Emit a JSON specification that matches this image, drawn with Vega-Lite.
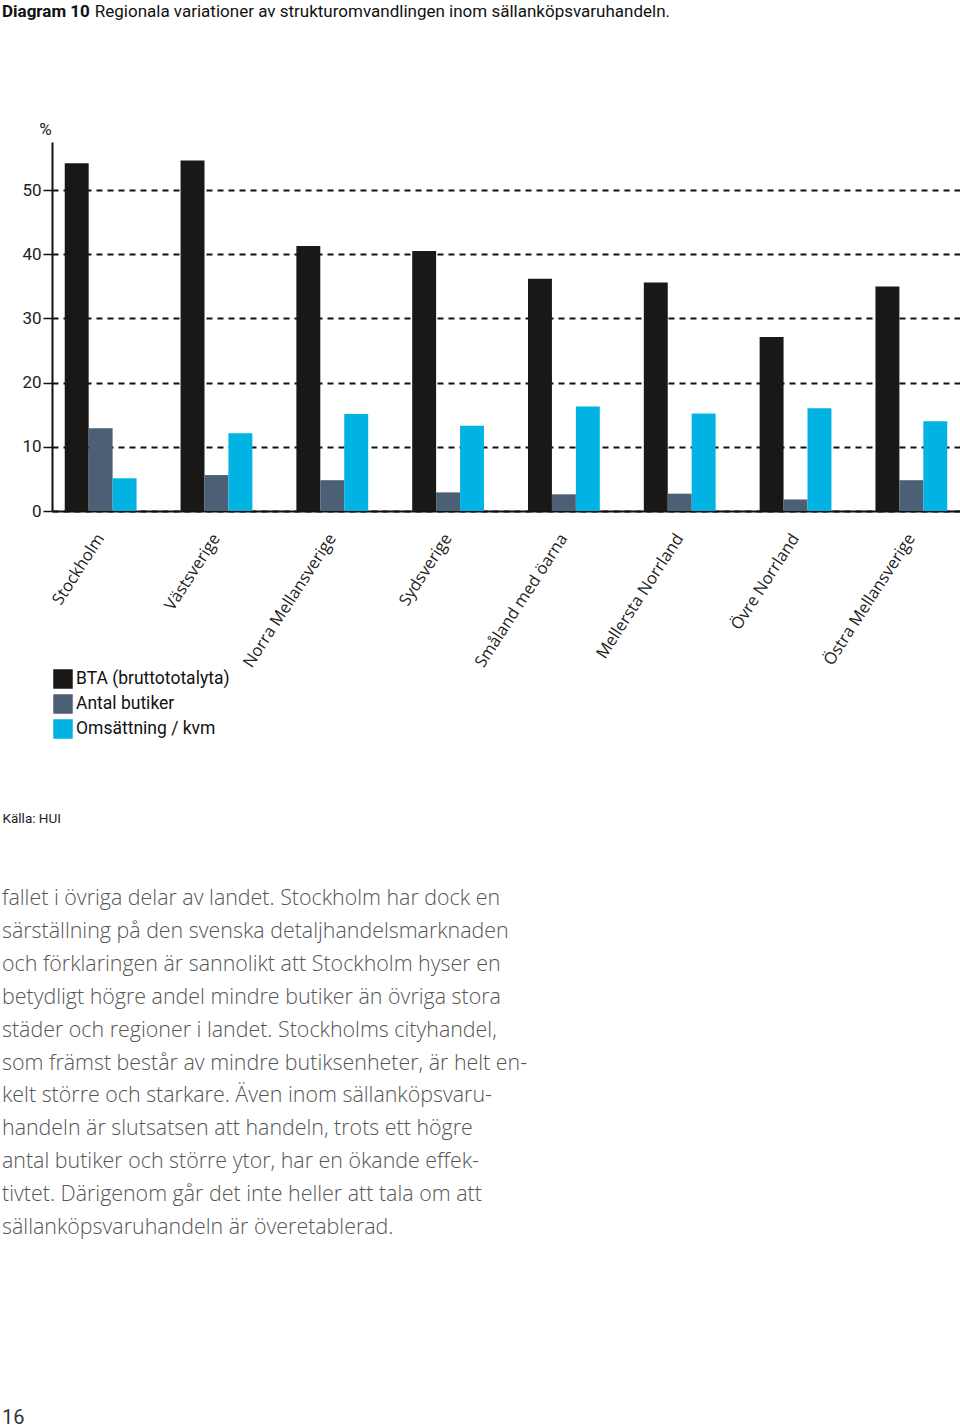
{
  "$schema": "https://vega.github.io/schema/vega-lite/v6.json",
  "padding": {"left": 2, "top": 3, "right": 0, "bottom": 0},
  "background": "white",
  "config": {"view": {"stroke": null}, "font": "Roboto"},
  "title": {"text": "Diagram 10", "subtitle": "\u200b\u00a0\u00a0\u00a0\u00a0\u00a0\u00a0\u00a0\u00a0\u00a0\u00a0\u00a0\u00a0\u00a0\u00a0\u00a0\u00a0\u00a0\u00a0\u00a0\u00a0\u00a0\u00a0Regionala variationer av strukturomvandlingen inom sällanköpsvaruhandeln.", "anchor": "start", "frame": "bounds", "fontSize": 17, "fontWeight": "bold", "font": "Roboto", "color": "#111", "subtitleFont": "Roboto", "subtitleFontSize": 17, "subtitleFontWeight": "normal", "subtitleColor": "#111", "subtitlePadding": -17, "offset": 99},
  "spacing": 58,
  "vconcat": [
    {
      "width": 908,
      "height": 369,
      "data": {"values": [
        {"region": "Stockholm", "serie": "BTA (bruttototalyta)", "value": 54.2},
        {"region": "Stockholm", "serie": "Antal butiker", "value": 12.9},
        {"region": "Stockholm", "serie": "Omsättning / kvm", "value": 5.1},
        {"region": "Västsverige", "serie": "BTA (bruttototalyta)", "value": 54.6},
        {"region": "Västsverige", "serie": "Antal butiker", "value": 5.6},
        {"region": "Västsverige", "serie": "Omsättning / kvm", "value": 12.1},
        {"region": "Norra Mellansverige", "serie": "BTA (bruttototalyta)", "value": 41.3},
        {"region": "Norra Mellansverige", "serie": "Antal butiker", "value": 4.8},
        {"region": "Norra Mellansverige", "serie": "Omsättning / kvm", "value": 15.1},
        {"region": "Sydsverige", "serie": "BTA (bruttototalyta)", "value": 40.5},
        {"region": "Sydsverige", "serie": "Antal butiker", "value": 2.9},
        {"region": "Sydsverige", "serie": "Omsättning / kvm", "value": 13.3},
        {"region": "Småland med öarna", "serie": "BTA (bruttototalyta)", "value": 36.2},
        {"region": "Småland med öarna", "serie": "Antal butiker", "value": 2.6},
        {"region": "Småland med öarna", "serie": "Omsättning / kvm", "value": 16.3},
        {"region": "Mellersta Norrland", "serie": "BTA (bruttototalyta)", "value": 35.6},
        {"region": "Mellersta Norrland", "serie": "Antal butiker", "value": 2.7},
        {"region": "Mellersta Norrland", "serie": "Omsättning / kvm", "value": 15.2},
        {"region": "Övre Norrland", "serie": "BTA (bruttototalyta)", "value": 27.1},
        {"region": "Övre Norrland", "serie": "Antal butiker", "value": 1.8},
        {"region": "Övre Norrland", "serie": "Omsättning / kvm", "value": 16.0},
        {"region": "Östra Mellansverige", "serie": "BTA (bruttototalyta)", "value": 35.0},
        {"region": "Östra Mellansverige", "serie": "Antal butiker", "value": 4.8},
        {"region": "Östra Mellansverige", "serie": "Omsättning / kvm", "value": 14.0}
      ]},
      "mark": {"type": "bar"},
      "encoding": {
        "x": {
          "field": "region", "type": "nominal",
          "sort": ["Stockholm", "Västsverige", "Norra Mellansverige", "Sydsverige", "Småland med öarna", "Mellersta Norrland", "Övre Norrland", "Östra Mellansverige"],
          "scale": {"paddingInner": 0.38, "paddingOuter": 0.11},
          "axis": {
            "domainColor": "#111", "domainWidth": 2, "ticks": false,
            "labelAngle": -57, "labelAlign": "right", "labelBaseline": "middle", "labelPadding": 24,
            "labelFont": "Open Sans", "labelFontSize": 16.5, "labelColor": "#222",
            "title": "Källa: HUI", "titleX": -50, "titleY": 307, "titleAlign": "left", "titleBaseline": "middle",
            "titleFont": "Roboto", "titleFontSize": 13.5, "titleFontWeight": "normal", "titleColor": "#222"
          }
        },
        "xOffset": {"field": "serie", "type": "nominal", "sort": ["BTA (bruttototalyta)", "Antal butiker", "Omsättning / kvm"]},
        "y": {
          "field": "value", "type": "quantitative",
          "scale": {"domain": [0, 57.5], "nice": false},
          "axis": {
            "values": [0, 10, 20, 30, 40, 50],
            "domainColor": "#111", "domainWidth": 2,
            "tickColor": "#111", "tickWidth": 1.5, "tickSize": 9,
            "labelFont": "Roboto", "labelFontSize": 17, "labelColor": "#222", "labelPadding": 2,
            "grid": true, "gridColor": "#111", "gridWidth": 1.8, "gridDash": [6, 5],
            "title": "%", "titleAngle": 0, "titleX": -7, "titleY": -13, "titleAlign": "center", "titleBaseline": "middle",
            "titleFont": "Roboto", "titleFontSize": 17, "titleFontWeight": "normal", "titleColor": "#222"
          }
        },
        "color": {
          "field": "serie", "type": "nominal",
          "sort": ["BTA (bruttototalyta)", "Antal butiker", "Omsättning / kvm"],
          "scale": {"domain": ["BTA (bruttototalyta)", "Antal butiker", "Omsättning / kvm"], "range": ["#1a1817", "#4b5f75", "#00b3e3"]},
          "legend": {
            "orient": "none", "legendX": 1, "legendY": 527, "title": null,
            "symbolType": "square", "symbolSize": 380, "symbolStrokeWidth": 0, "symbolOpacity": 1,
            "labelFont": "Roboto", "labelFontSize": 17.5, "labelColor": "#111", "labelOffset": 3,
            "rowPadding": 5
          }
        }
      }
    },
    {
      "width": 500,
      "height": 361,
      "title": {"text": "16", "orient": "bottom", "anchor": "start", "frame": "group", "offset": 164, "dx": -50, "fontSize": 20, "fontWeight": "normal", "font": "Roboto", "color": "#333"},
      "data": {"values": [
        {"line": 1, "text": "fallet i övriga delar av landet. Stockholm har dock en"},
        {"line": 2, "text": "särställning på den svenska detaljhandelsmarknaden"},
        {"line": 3, "text": "och förklaringen är sannolikt att Stockholm hyser en"},
        {"line": 4, "text": "betydligt högre andel mindre butiker än övriga stora"},
        {"line": 5, "text": "städer och regioner i landet. Stockholms cityhandel,"},
        {"line": 6, "text": "som främst består av mindre butiksenheter, är helt en-"},
        {"line": 7, "text": "kelt större och starkare. Även inom sällanköpsvaru-"},
        {"line": 8, "text": "handeln är slutsatsen att handeln, trots ett högre"},
        {"line": 9, "text": "antal butiker och större ytor, har en ökande effek-"},
        {"line": 10, "text": "tivtet. Därigenom går det inte heller att tala om att"},
        {"line": 11, "text": "sällanköpsvaruhandeln är överetablerad."}
      ]},
      "mark": {"type": "text", "align": "left", "baseline": "middle", "fontSize": 21.4, "font": "Open Sans", "fontWeight": 300, "color": "#555"},
      "encoding": {
        "y": {"field": "line", "type": "ordinal", "axis": null, "scale": {"paddingInner": 0, "paddingOuter": 0}},
        "x": {"value": -50},
        "text": {"field": "text"}
      }
    }
  ]
}
